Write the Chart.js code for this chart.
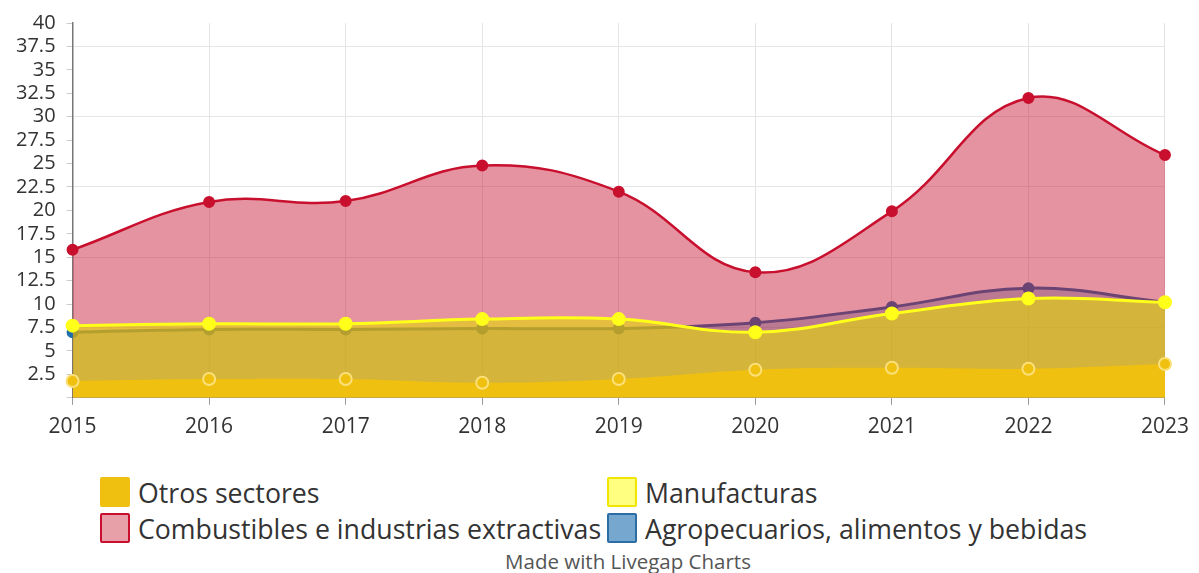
<!DOCTYPE html>
<html>
<head>
<meta charset="utf-8">
<script src="https://cdn.jsdelivr.net/npm/chart.js@4"></script>
<style>
    body { margin: 0; background: #fff; font-family: 'Open Sans', sans-serif; }
    #wrap { position: relative; width: 1199px; height: 450px; }
    #legend { position: absolute; left: 100px; top: 477px; display: grid; grid-template-columns: 507px 500px; row-gap: 6px; }
    .item { display: flex; align-items: center; height: 30px; font-size: 26.7px; color: #333; white-space: nowrap; }
    .box { width: 26px; height: 26px; border: 2px solid; border-radius: 2px; margin-right: 8px; }
    #credit { position: absolute; left: 0; width: 1256px; top: 547px; text-align: center; font-size: 20.5px; color: #555; }
</style>
</head>
<body>
<div id="wrap"><canvas id="chart"></canvas></div>
<div id="legend"></div>
<div id="credit">Made with Livegap Charts</div>
<script>
const years = ['2015', '2016', '2017', '2018', '2019', '2020', '2021', '2022', '2023'];
const otros = [1.8, 2.0, 2.0, 1.6, 2.0, 3.0, 3.2, 3.1, 3.6];
const manufacturas = [7.7, 7.9, 7.9, 8.4, 8.4, 7.0, 9.0, 10.6, 10.2];
const combustibles = [15.8, 20.9, 21.0, 24.8, 22.0, 13.4, 19.9, 32.0, 25.9];
const agropecuarios = [7.0, 7.3, 7.3, 7.4, 7.4, 8.0, 9.7, 11.7, 10.2];

// legend order, with the box colours used below the chart
const series = [
    { label: 'Otros sectores', data: otros, line: '#f0c010', fill: '#f0c010', point: '#f0c010', pointBorder: '#fbe07a', box: '#f0c010', boxBorder: '#f0c010', width: 0, radius: 6, order: 1 },
    { label: 'Manufacturas', data: manufacturas, line: '#ffff1a', fill: 'rgba(229,219,0,0.6)', point: '#ffff1a', pointBorder: '#ffff1a', box: '#ffff80', boxBorder: '#f2e600', width: 3, radius: 6, order: 2 },
    { label: 'Combustibles e industrias extractivas', data: combustibles, line: '#c8102e', fill: 'rgba(200,16,46,0.45)', point: '#c8102e', pointBorder: '#c8102e', box: '#e8a0a8', boxBorder: '#c8102e', width: 2.5, radius: 5, order: 3 },
    { label: 'Agropecuarios, alimentos y bebidas', data: agropecuarios, line: '#1f6fae', fill: 'rgba(31,119,180,0.35)', point: '#1f6fae', pointBorder: '#1f6fae', box: '#76a8cf', boxBorder: '#2c6ea4', width: 3, radius: 5, order: 4 },
];

function buildLegend() {
    const legend = document.getElementById('legend');
    series.forEach(s => {
        const item = document.createElement('div');
        item.className = 'item';
        const box = document.createElement('span');
        box.className = 'box';
        box.style.background = s.box;
        box.style.borderColor = s.boxBorder;
        item.appendChild(box);
        item.appendChild(document.createTextNode(s.label));
        legend.appendChild(item);
    });
}

function drawChart() {
    const datasets = series.map(s => ({
        label: s.label,
        data: s.data,
        order: s.order,
        fill: 'origin',
        tension: 0.4,
        borderColor: s.line,
        borderWidth: s.width,
        backgroundColor: s.fill,
        pointRadius: s.radius,
        pointBorderWidth: 2,
        pointBackgroundColor: s.point,
        pointBorderColor: s.pointBorder,
    }));

    new Chart(document.getElementById('chart'), {
        type: 'line',
        data: { labels: years, datasets: datasets },
        options: {
            responsive: true,
            maintainAspectRatio: false,
            animation: false,
            layout: { padding: { top: 21, left: 5, right: 20, bottom: 0 } },
            plugins: {
                legend: { display: false },
                tooltip: { enabled: false },
            },
            scales: {
                x: {
                    grid: { color: '#e4e4e4', tickColor: '#999', tickLength: 7 },
                    border: { color: '#aaa', width: 1 },
                    ticks: { color: '#333', padding: 10, font: { family: 'Open Sans', size: 21 } },
                },
                y: {
                    min: 0,
                    max: 40,
                    grid: {
                        color: ctx => (ctx.tick && ctx.tick.value > 0 && ctx.tick.value % 7.5 === 0) ? '#e6e6e6' : 'rgba(0,0,0,0)',
                        tickColor: '#ccc',
                        tickLength: 6,
                    },
                    border: { color: '#777', width: 1.5 },
                    ticks: {
                        stepSize: 2.5,
                        autoSkip: false,
                        color: '#333',
                        padding: 11,
                        font: { family: 'Open Sans', size: 20 },
                        callback: v => v === 0 ? '' : v,
                    },
                },
            },
        },
    });
}

window.onload = function () {
    buildLegend();
    drawChart();
};
</script>
</body>
</html>
